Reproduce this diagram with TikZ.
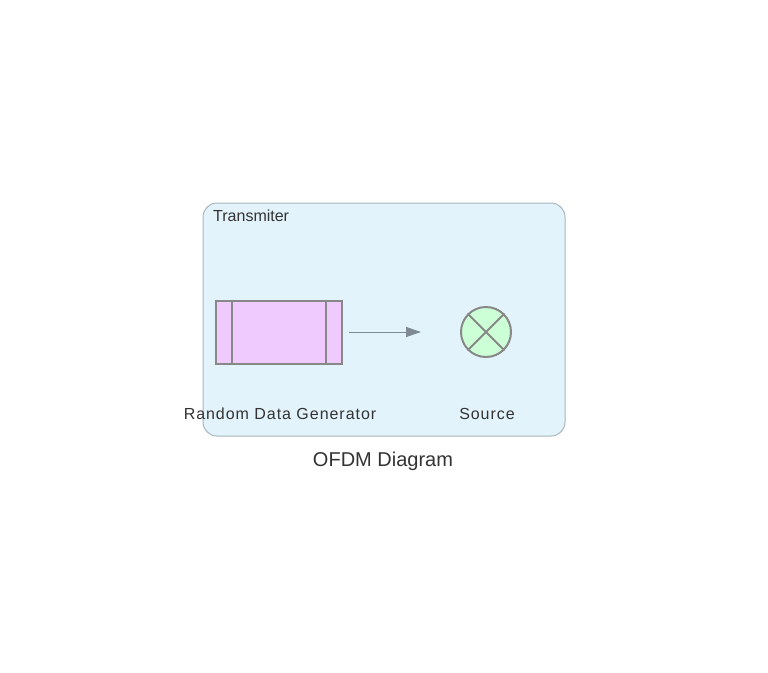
\documentclass[tikz,border=0pt]{standalone}
\usepackage{fontspec}
\setmainfont{Liberation Sans}
\usetikzlibrary{arrows.meta}
\definecolor{groupfill}{HTML}{E2F3FB}
\definecolor{groupline}{HTML}{A9B6C0}
\definecolor{procfill}{HTML}{EECAFF}
\definecolor{nodeline}{HTML}{888888}
\definecolor{srcfill}{HTML}{CCFFD6}
\definecolor{edgecol}{HTML}{7F8A93}
\definecolor{txt}{HTML}{333333}
\tikzset{
  groupbox/.style={draw=groupline, fill=groupfill, rounded corners=14pt, line width=1pt},
  procbox/.style={draw=nodeline, fill=procfill, line width=2pt, minimum width=126pt, minimum height=63pt, inner sep=0pt},
  srcnode/.style={draw=nodeline, fill=srcfill, circle, line width=2pt, minimum size=50pt, inner sep=0pt},
  lbl/.style={text=txt, font=\fontsize{16pt}{18pt}\selectfont\addfontfeature{LetterSpace=6}, inner sep=0pt},
  edge/.style={draw=edgecol, line width=1pt, -{Triangle[length=15pt,width=10pt]}},
}
\begin{document}
\begin{tikzpicture}[x=1pt,y=-1pt]
\useasboundingbox[fill=white] (0,0) rectangle (768,672);
\node[groupbox, minimum width=362pt, minimum height=233pt, inner sep=0pt] (grp) at (384,319.5) {};
\node[text=txt, font=\fontsize{16pt}{18pt}\selectfont, anchor=west, inner sep=0pt] (gtitle) at (213,215.5) {Transmiter};
\node[procbox] (gen) at (279,332) {};
\draw[nodeline, line width=2pt] ([xshift=17pt]gen.north west) -- ([xshift=17pt]gen.south west);
\draw[nodeline, line width=2pt] ([xshift=-17pt]gen.north east) -- ([xshift=-17pt]gen.south east);
\node[srcnode] (src) at (486,332) {};
\draw[nodeline, line width=2pt] (src.north west) -- (src.south east);
\draw[nodeline, line width=2pt] (src.north east) -- (src.south west);
\draw[edge, shorten <=6pt, shorten >=39pt] (gen.east) -- (src.west);
\node[lbl] (genlbl) at (280,414) {Random Data Generator};
\node[lbl] (srclbl) at (487,414) {Source};
\node[text=txt, font=\fontsize{20pt}{22pt}\selectfont, inner sep=0pt] (title) at (383,461) {OFDM Diagram};
\end{tikzpicture}
\end{document}
